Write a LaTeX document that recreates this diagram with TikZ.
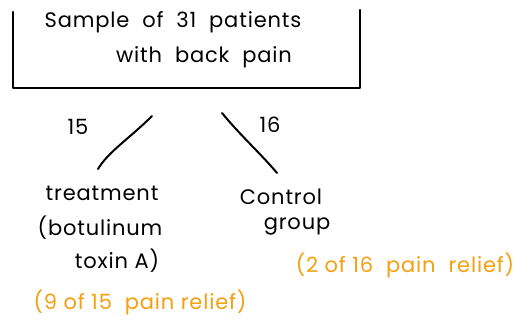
\documentclass[tikz,border=0pt]{standalone}
\usepackage{fontspec}
\setmainfont{Poppins}[LetterSpace=4]
\definecolor{relief}{HTML}{F5A010}
\begin{document}
\begin{tikzpicture}[x=1pt,y=-1pt,
  hand/.style={line width=2.2pt,line cap=round,line join=round},
  lbl/.style={inner sep=0pt,font=\fontsize{21}{24}\selectfont},
  orng/.style={lbl,text=relief}]
\useasboundingbox[fill=white] (0,0) rectangle (529,324);
\coordinate (bl0) at (13,12);
\coordinate (bl1) at (13,88);
\coordinate (br1) at (360,88);
\coordinate (br0) at (360,10);
\draw[hand] (bl0) -- (bl1) -- (br1) -- (br0);
\node[lbl] (t1) at (173,22) {Sample\ \ of\ \ 31\ \ patients};
\node[lbl] (t2) at (204,57) {with\ \ back\ \ pain};
\coordinate (la) at (152,116);
\coordinate (lb) at (98,169);
\coordinate (ra) at (222,113);
\coordinate (rb) at (277,173);
\draw[hand,line width=2pt] (la) .. controls (130,138) and (108,152) .. (lb);
\draw[hand,line width=2pt] (ra) .. controls (240,135) and (262,155) .. (rb);
\node[lbl] (n15) at (78,127) {15};
\node[lbl] (n16) at (270,125) {16};
\node[lbl] (tr1) at (102,193) {treatment};
\node[lbl] (tr2) at (100,228) {(botulinum};
\node[lbl] (tr3) at (117,261) {toxin A)};
\node[lbl] (c1) at (281,197) {Control};
\node[lbl] (c2) at (297,226) {group};
\node[orng] (o2) at (405,265) {(2\ of\ 16\ \ pain\ \ relief)};
\node[orng] (o1) at (140,302) {(9\ of\ 15\ \ pain\ relief)};
\end{tikzpicture}
\end{document}
